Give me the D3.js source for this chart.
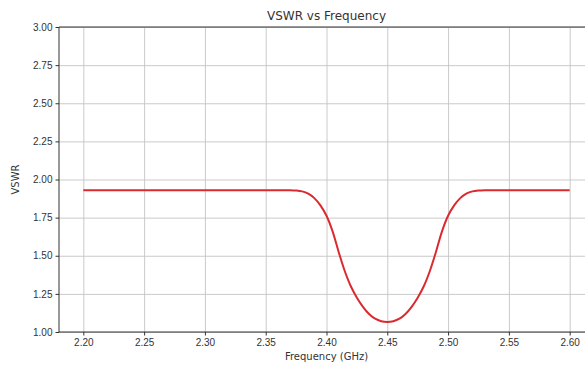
<!DOCTYPE html>
<html lang="en">
<head>
  <meta charset="UTF-8">
  <title>VSWR vs Frequency</title>
  <style>
    html, body { margin: 0; padding: 0; background: #fff; }
    svg { display: block; font-family: "DejaVu Sans", sans-serif; }
    .grid line { stroke: #c4c4c4; stroke-width: 0.9; }
    .grid path { display: none; }
    .axis path, .axis line { stroke: #333; }
    .axis text { fill: #333; font-size: 10px; }
  </style>
</head>
<body>
  <div id="chart"></div>

  <script src="https://d3js.org/d3.v7.min.js"></script>
  <script>
    // values
    const freqs = [2.20, 2.25, 2.30, 2.35, 2.36, 2.37, 2.375, 2.38, 2.385, 2.39, 2.395,
                   2.40, 2.405, 2.41, 2.415, 2.42, 2.425, 2.43, 2.435, 2.44, 2.445,
                   2.45, 2.455, 2.46, 2.465, 2.47, 2.475, 2.48, 2.485, 2.49, 2.495,
                   2.50, 2.505, 2.51, 2.515, 2.52, 2.525, 2.53, 2.54, 2.55, 2.60];
    const vswr = [1.93, 1.93, 1.93, 1.93, 1.93, 1.93, 1.928, 1.922, 1.907, 1.878, 1.83,
                  1.762, 1.66, 1.525, 1.40, 1.30, 1.225, 1.165, 1.118, 1.087, 1.071,
                  1.066, 1.071, 1.087, 1.118, 1.165, 1.225, 1.30, 1.40, 1.525, 1.66,
                  1.762, 1.83, 1.878, 1.907, 1.922, 1.928, 1.93, 1.93, 1.93, 1.93];
    const xTicks = [2.20, 2.25, 2.30, 2.35, 2.40, 2.45, 2.50, 2.55, 2.60];
    const yTicks = [1.00, 1.25, 1.50, 1.75, 2.00, 2.25, 2.50, 2.75, 3.00];

    const width = 585;
    const height = 365;
    const mLeft = 59, mTop = 27, mBottom = 332, mRight = 594;

    const svg = d3.select('#chart')
      .append('svg')
      .attr('width', width)
      .attr('height', height);

    const x = d3.scaleLinear().domain([2.18, 2.62]).range([mLeft, mRight]);
    const y = d3.scaleLinear().domain([1, 3]).range([mBottom, mTop]);

    // grid
    svg.append('g')
      .attr('class', 'grid')
      .attr('transform', `translate(0,${mBottom})`)
      .call(d3.axisBottom(x).tickValues(xTicks).tickSize(-(mBottom - mTop)).tickFormat(''));
    svg.append('g')
      .attr('class', 'grid')
      .attr('transform', `translate(${mLeft},0)`)
      .call(d3.axisLeft(y).tickValues(yTicks).tickSize(-(mRight - mLeft)).tickFormat(''));

    // curve
    const data = freqs.map((f, i) => ({ f: f, v: vswr[i] }));
    svg.append('path')
      .datum(data)
      .attr('fill', 'none')
      .attr('stroke', '#db2a2f')
      .attr('stroke-width', 2)
      .attr('d', d3.line().x(d => x(d.f)).y(d => y(d.v)).curve(d3.curveCatmullRom.alpha(0.5)));

    // axes
    svg.append('g')
      .attr('class', 'axis')
      .attr('transform', `translate(0,${mBottom})`)
      .call(d3.axisBottom(x).tickValues(xTicks).tickSize(3.5).tickPadding(3).tickFormat(d3.format('.2f')))
      .call(g => g.select('.domain').attr('d', `M${mLeft},0H${mRight}`));
    svg.append('g')
      .attr('class', 'axis')
      .attr('transform', `translate(${mLeft},0)`)
      .call(d3.axisLeft(y).tickValues(yTicks).tickSize(3.5).tickPadding(3).tickFormat(d3.format('.2f')))
      .call(g => g.select('.domain').attr('d', `M0,${mBottom}V${mTop}`));

    // top and right spines
    svg.append('line')
      .attr('x1', mLeft).attr('x2', mRight).attr('y1', mTop).attr('y2', mTop)
      .attr('stroke', '#333');
    svg.append('line')
      .attr('x1', mRight).attr('x2', mRight).attr('y1', mTop).attr('y2', mBottom)
      .attr('stroke', '#333');

    // labels
    svg.append('text')
      .attr('x', (mLeft + mRight) / 2).attr('y', 20)
      .attr('text-anchor', 'middle')
      .attr('font-size', 12).attr('fill', '#333')
      .text('VSWR vs Frequency');
    svg.append('text')
      .attr('x', (mLeft + mRight) / 2).attr('y', 360)
      .attr('text-anchor', 'middle')
      .attr('font-size', 10).attr('fill', '#333')
      .text('Frequency (GHz)');
    svg.append('text')
      .attr('transform', `translate(19,${(mTop + mBottom) / 2}) rotate(-90)`)
      .attr('text-anchor', 'middle')
      .attr('font-size', 10).attr('fill', '#333')
      .text('VSWR');
  </script>
</body>
</html>
